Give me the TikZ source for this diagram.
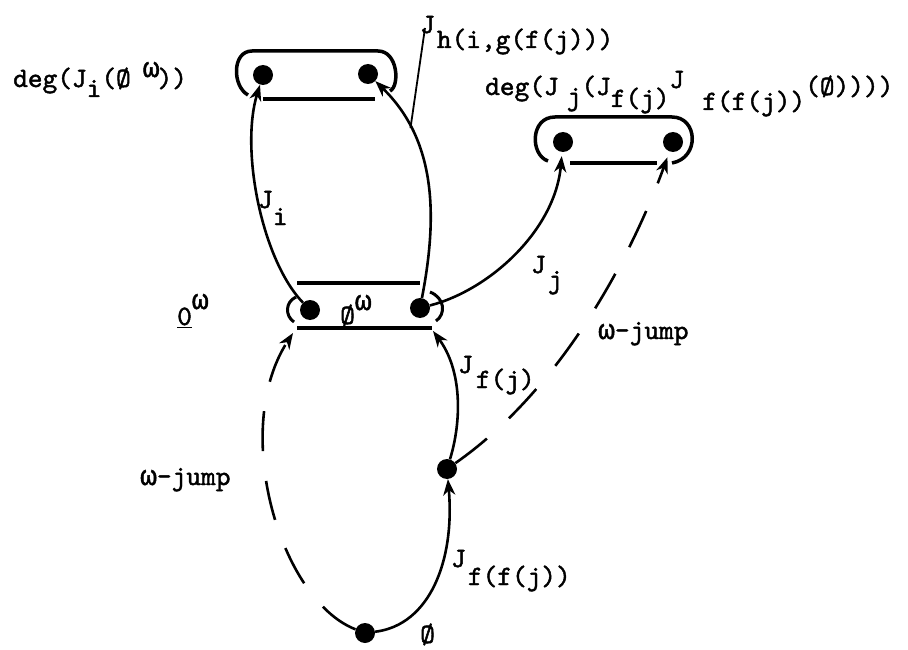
\documentclass[tikz,border=0pt]{standalone}
\usepackage{fontspec}
\newfontfamily\tw[FakeBold=1.6]{lmmono10-regular.otf}
\newfontfamily\gk[FakeBold=1.6]{Liberation Mono}
\newcommand\om{{\gk ω}}
\usetikzlibrary{arrows.meta}
\begin{document}
\begin{tikzpicture}[x=1pt,y=-1pt,
  dot/.style={circle,fill=black,inner sep=0pt,minimum size=20pt},
  lbl/.style={font=\tw\fontsize{28}{31}\selectfont,inner sep=0pt,anchor=base west},
  arr/.style={line width=2.6pt,-{Stealth[length=16pt,width=12pt,inset=5pt]}},
  jump/.style={arr,dash pattern=on 40pt off 30pt},
  boxline/.style={line width=3.5pt},
  boxarc/.style={line width=3pt},
  leader/.style={line width=1.8pt}]
\fill[white] (0,0) rectangle (908,650);
\useasboundingbox (0,0) rectangle (908,650);

% dots
\node[dot] (a1) at (263,75) {};
\node[dot] (a2) at (368,74) {};
\node[dot] (b1) at (563,142) {};
\node[dot] (b2) at (673,142) {};
\node[dot] (m1) at (310,310) {};
\node[dot] (m2) at (420,308) {};
\node[dot] (fj) at (447,469) {};
\node[dot] (bot) at (365,633) {};

% boxes
\draw[boxline] (248,95) .. controls (232,86) and (232,51) .. (252,51) -- (378,51) .. controls (398,51) and (400,86) .. (390,91);
\draw[boxline] (263,99) -- (375,99);
\draw[boxline] (548,161) .. controls (530,155) and (530,117) .. (555,117) -- (672,117) .. controls (698,117) and (700,158) .. (672,163);
\draw[boxline] (570,163) -- (657,163);
\draw[boxline] (297,283) -- (420,283);
\draw[boxline] (297,328) -- (432,328);
\draw[boxarc] (296,297) .. controls (285,302) and (285,316) .. (294,322);
\draw[boxarc] (430,292) .. controls (445,298) and (446,314) .. (436,321);

\coordinate (mlin) at (293,333);
\coordinate (mrin) at (433,331);
\coordinate (htop) at (425,28);

% connectors
\draw[arr] (bot) .. controls (430,625) and (455,560) .. (fj);
\draw[arr] (fj) .. controls (462,420) and (462,370) .. (mrin);
\draw[arr] (m1) .. controls (262,260) and (240,150) .. (a1);
\draw[arr] (m2) .. controls (438,215) and (436,140) .. (a2) coordinate[pos=0.75] (hfoot);
\draw[leader] (hfoot) -- (htop);
\draw[arr,shorten >=4pt] (m2) .. controls (490,290) and (555,230) .. (b1);
\draw[jump,shorten >=6pt] (fj) .. controls (560,390) and (630,260) .. (b2);
\draw[jump] (bot) .. controls (280,600) and (230,430) .. (mlin);

% labels
\node[lbl] (l1) at (13,87) {deg(J\raisebox{-10pt}{i}(Ø\hspace{12pt}\raisebox{10pt}{\om}\hspace{-2pt}))};
\node[lbl] (l2) at (420,33) {J\raisebox{-15pt}{\hspace{2pt}h(i,g(f(j)))}};
\node[lbl] (l3) at (485,95) {deg(J\hspace{8pt}\raisebox{-10pt}{j}(J\raisebox{-12pt}{f(j)}\raisebox{7pt}{J}\hspace{18pt}\raisebox{-15pt}{f(f(j))}(Ø))))};
\node[lbl] (li) at (258,208) {J\raisebox{-17pt}{i}};
\node[lbl] (lj) at (531,273) {J\raisebox{-15pt}{\hspace{2pt}j}};
\node[lbl] (lfj) at (458,373) {J\raisebox{-15pt}{\hspace{3pt}f(j)}};
\node[lbl] (lffj) at (451,567) {J\raisebox{-18pt}{\hspace{2pt}f(f(j))}};
\node[lbl] (jr) at (598,339) {\om-jump};
\node[lbl] (jl) at (140,485) {\om-jump};
\node[lbl] (le) at (420,643) {Ø};
\node[lbl] (lm) at (340,324) {Ø\raisebox{14pt}{\om}};
\node[lbl] (lz) at (177,325) {\underline{0}\raisebox{16pt}{\om}};
\end{tikzpicture}
\end{document}
